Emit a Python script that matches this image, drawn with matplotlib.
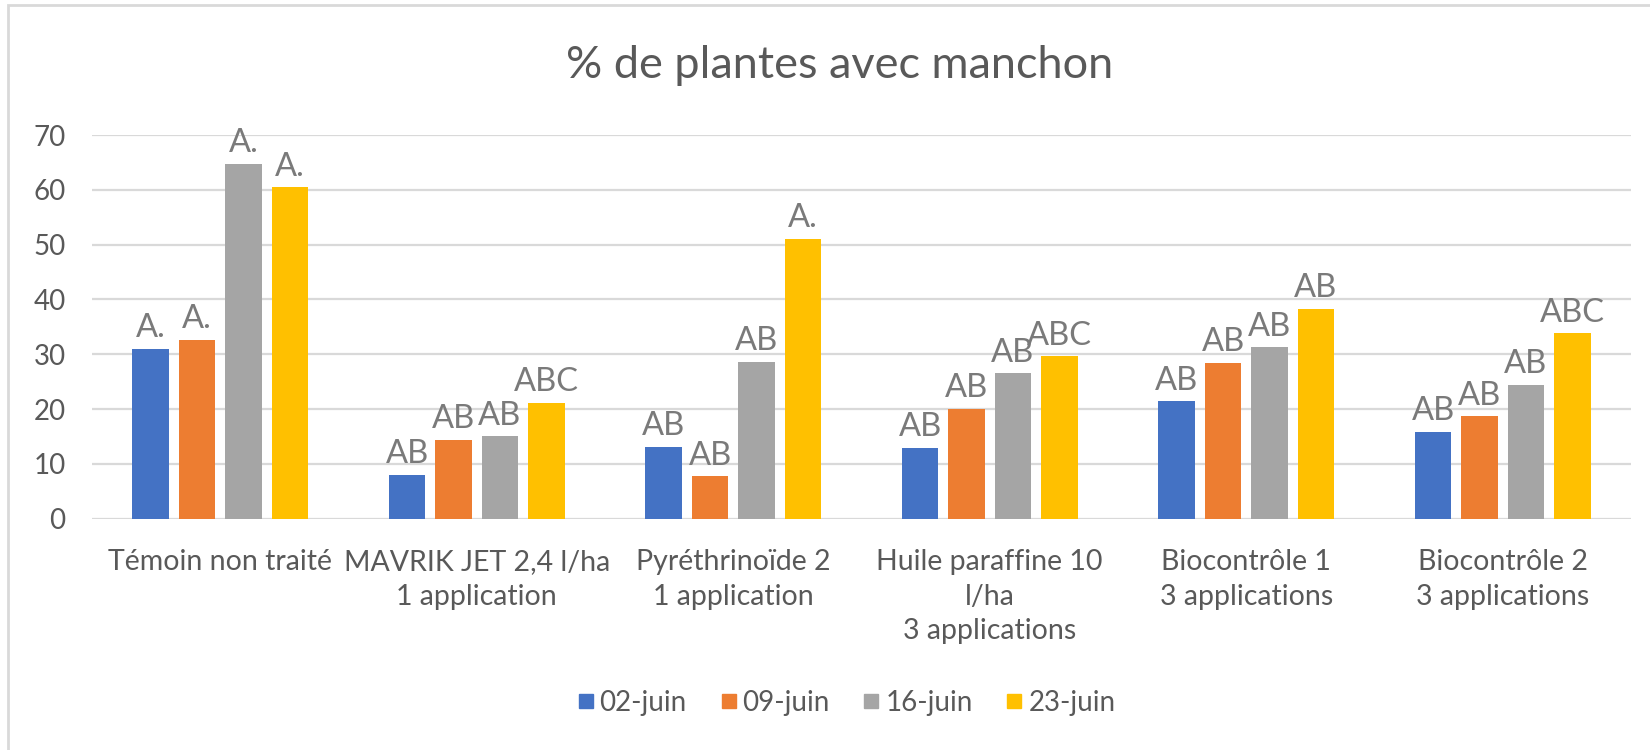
import numpy as np
import matplotlib.pyplot as plt
from matplotlib.lines import Line2D
from matplotlib.patches import Rectangle

plt.rcParams['font.family'] = ['Lato', 'DejaVu Sans']

categories = ["Témoin non traité",
              "MAVRIK JET 2,4 l/ha\n1 application",
              "Pyréthrinoïde 2\n1 application",
              "Huile paraffine 10\nl/ha\n3 applications",
              "Biocontrôle 1\n3 applications",
              "Biocontrôle 2\n3 applications"]
dates = ["02-juin", "09-juin", "16-juin", "23-juin"]
colors = ["#4472C4", "#ED7D31", "#A5A5A5", "#FFC000"]

v_02 = [31.0, 8.0, 13.1, 12.9, 21.4, 15.9]
v_09 = [32.6, 14.4, 7.7, 20.1, 28.4, 18.7]
v_16 = [64.8, 15.0, 28.6, 26.5, 31.3, 24.4]
v_23 = [60.5, 21.1, 51.1, 29.6, 38.3, 33.8]

lab_02 = ["A.", "AB", "AB", "AB", "AB", "AB"]
lab_09 = ["A.", "AB", "AB", "AB", "AB", "AB"]
lab_16 = ["A.", "AB", "AB", "AB", "AB", "AB"]
lab_23 = ["A.", "ABC", "A.", "ABC", "AB", "ABC"]

series = [v_02, v_09, v_16, v_23]
letters = [lab_02, lab_09, lab_16, lab_23]

txt = "#595959"

fig = plt.figure(figsize=(16.5, 7.5), dpi=100)
ax = fig.add_axes([92 / 1650, 1 - 518.7 / 750, (1631 - 92) / 1650, (518.7 - 135) / 750])

x = np.arange(len(categories))
step = 0.181
width = 0.142
for i, (vals, labs) in enumerate(zip(series, letters)):
    bars = ax.bar(x + (i - 1.5) * step, vals, width, color=colors[i], label=dates[i], zorder=3)
    ax.bar_label(bars, labels=labs, padding=4, fontsize=23.5, color="#7a7a7a")

ax.set_xlim(-0.5, len(categories) - 0.5)
ax.set_ylim(0, 70)
ax.set_yticks(range(0, 71, 10))
ax.set_xticks(x)
ax.set_xticklabels(categories, linespacing=1.4)
ax.tick_params(axis='y', length=0, pad=19, labelsize=20, labelcolor=txt)
ax.tick_params(axis='x', length=0, pad=22, labelsize=20.5, labelcolor=txt)
ax.grid(axis='y', color="#d9d9d9", linewidth=1.6, zorder=0)
for s in ax.spines.values():
    s.set_visible(False)

fig.text(0.509, 1 - 66 / 750, "% de plantes avec manchon", ha='center', va='center',
         fontsize=32.5, color=txt)

handles = [Line2D([], [], marker='s', linestyle='', markersize=10, color=c) for c in colors]
fig.legend(handles, dates, loc='center', bbox_to_anchor=(845 / 1650, 1 - 703 / 750), ncol=4,
           frameon=False, fontsize=20, labelcolor=txt, handletextpad=0.1, columnspacing=1.1,
           handlelength=0.8)

# chart border (left and top visible)
fig.patches.append(Rectangle((8 / 1650, -0.1), 1.2, 1 - 5 / 750 + 0.1, transform=fig.transFigure,
                             fill=False, edgecolor="#d9d9d9", linewidth=2))

fig.savefig("out.png", dpi=100, facecolor="white")
